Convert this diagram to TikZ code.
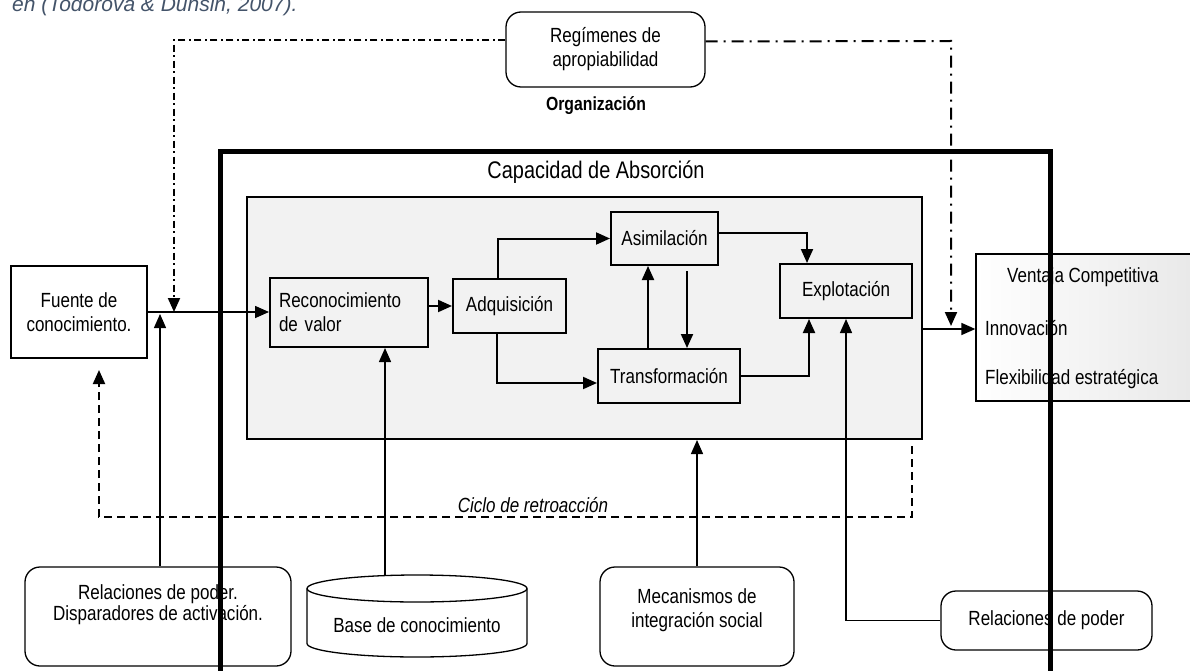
\documentclass[tikz,border=0pt]{standalone}
\usepackage{fontspec}
\setmainfont{Liberation Sans}[FakeStretch=0.83]
\newfontfamily\capfont{Liberation Sans}
\usetikzlibrary{arrows.meta}
\definecolor{capblue}{RGB}{68,84,106}
\definecolor{panel}{RGB}{242,242,242}
\begin{document}
\begin{tikzpicture}[x=1pt,y=-1pt,
  font=\fontsize{20.5}{24}\selectfont,
  headed/.style={-{Triangle[length=14pt,width=12pt]}},
  stepbox/.style={draw, line width=2pt, fill=panel, inner sep=0pt, align=center},
  softbox/.style={draw, line width=1.3pt, rounded corners=15pt, fill=white, inner sep=0pt, align=center},
  conn/.style={line width=2pt, headed},
  thinconn/.style={line width=1.4pt, headed},
  dashdotA/.style={line width=2pt, dash pattern=on 7pt off 3.5pt on 2pt off 3.5pt, headed},
  dashdotB/.style={line width=2pt, dash pattern=on 12pt off 6pt on 2pt off 6pt, headed},
  feedback/.style={line width=2pt, dash pattern=on 8pt off 5pt, headed}
]
\clip (0,0) rectangle (1190,671);
\fill[white] (0,0) rectangle (1190,671);

% caption line at the top
\node[anchor=base west, inner sep=0pt, text=capblue,
      font=\capfont\itshape\fontsize{21}{25}\selectfont] (caption) at (12,12)
  {en (Todorova \& Dunsin, 2007).};

% appropriability regimes
\node[softbox, minimum width=199pt, minimum height=75pt] (reg) at (605.5,49.5)
  {Regímenes de\\apropiabilidad};

% organisation and absorptive capacity titles
\node[anchor=base, inner sep=0pt, font=\bfseries\fontsize{19}{23}\selectfont] (org) at (596,111) {Organización};
\node[font=\fontsize{24}{28}\selectfont] (cap) at (596,172) {Capacidad de Absorción};

% absorptive capacity panel
\node[draw, line width=2pt, fill=panel, minimum width=675pt, minimum height=242pt, inner sep=0pt] (panel) at (584.5,318) {};

% process stages
\node[stepbox, minimum width=158pt, minimum height=69pt, text width=140pt, align=left] (reco) at (349,312.5)
  {Reconocimiento\\de valor};
\node[stepbox, minimum width=113pt, minimum height=54pt] (adq) at (509.5,306) {Adquisición};
\node[stepbox, minimum width=107pt, minimum height=53pt] (asim) at (664.5,238.5) {Asimilación};
\node[stepbox, minimum width=142pt, minimum height=54pt] (trans) at (669,376) {Transformación};
\node[stepbox, minimum width=132pt, minimum height=54pt] (expl) at (846,291) {Explotación};

% knowledge source
\node[draw, line width=2pt, fill=white, minimum width=136pt, minimum height=92pt, inner sep=0pt, align=center] (fuente) at (79,312)
  {Fuente de\\conocimiento.};

% competitive advantage
\node[draw, line width=1.3pt, left color=white, right color=gray!18, minimum width=224pt, minimum height=147pt, inner sep=0pt] (vent) at (1088,327.5) {};
\node[anchor=west, inner sep=0pt] (vt1) at (1007,277) {Ventaja Competitiva};
\node[anchor=west, inner sep=0pt] (vt2) at (985,328) {Innovación};
\node[anchor=west, inner sep=0pt] (vt3) at (985,379) {Flexibilidad estratégica};

% lower boxes
\node[softbox, minimum width=266pt, minimum height=99pt] (relA) at (158,616.5) {};
\node[align=center, inner sep=0pt, font=\fontsize{20.5}{21}\selectfont] (relAtxt) at (158,605)
  {Relaciones de poder.\\Disparadores de activación.};
\node[softbox, minimum width=194pt, minimum height=99pt] (mec) at (697,616.5) {};
\node[align=center, inner sep=0pt] (mectxt) at (697,610) {Mecanismos de\\integración social};
\node[softbox, minimum width=211pt, minimum height=59pt] (relB) at (1046.5,620.5) {Relaciones de poder};

% knowledge base cylinder
\filldraw[fill=white, line width=1.3pt] (307,588.5) -- (307,643.5)
  arc[start angle=180, end angle=360, x radius=110pt, y radius=13.5pt] -- (527,588.5);
\draw[line width=1.3pt] (417,588.5) ellipse[x radius=110pt, y radius=13.5pt];
\node[inner sep=0pt] (base) at (417,625) {Base de conocimiento};

% junction points
\coordinate (jA) at (160,314);
\coordinate (ddL) at (174,40);
\coordinate (jB) at (174,312);
\coordinate (ddR) at (951,41);
\coordinate (jC) at (951,326);
\coordinate (fbR) at (912,517);
\coordinate (fbL) at (99,517);
\coordinate (fbT) at (99,370);
\coordinate (basetop) at (385,576);

% connectors
\draw[line width=1.6pt, headed] (fuente.east) -- (fuente.east -| reco.west);
\draw[thinconn] (relA.north -| jA) -- (jA);
\draw[dashdotA] ([yshift=9.5pt]reg.west) -- (ddL) -- (jB);
\draw[dashdotB] ([yshift=8pt]reg.east) -- (ddR) -- (jC);

\draw[conn] (reco.east |- adq.west) -- (adq.west);
\draw[conn] ([xshift=-11.5pt]adq.north) |- (asim.west);
\draw[conn] ([xshift=-12.5pt]adq.south) |- ([yshift=-7pt]trans.west);
\draw[conn] ([xshift=-21pt]trans.north) -- ([xshift=-21pt]trans.north |- asim.south);
\draw[conn] ([xshift=22.5pt,yshift=-5pt]asim.south) -- ([xshift=22.5pt]asim.south |- trans.north);
\draw[conn] ([yshift=6pt]asim.east) -| ([xshift=-39pt]expl.north);
\draw[conn] (trans.east) -| ([xshift=-37pt]expl.south);
\draw[thinconn] (relB.west) -| (expl.south);
\draw[thinconn] (mec.north) -- (mec.north |- panel.south);
\draw[thinconn] (basetop) -- (basetop |- reco.south);
\draw[line width=1.6pt, headed] ([yshift=-11pt]panel.east) -- ([yshift=-11pt]panel.east -| vent.west);

% feedback loop
\draw[feedback] ([xshift=327.5pt,yshift=-6pt]panel.south) -- (fbR) -- (fbL) -- (fbT);
\node[anchor=base, inner sep=0pt, font=\itshape\fontsize{20.5}{24}\selectfont] (ciclo) at (533,512) {Ciclo de retroacción};

% organisation boundary
\draw[line width=5pt] (220,690) -- (220,152) -- (1050,152) -- (1050,690);
\end{tikzpicture}
\end{document}
